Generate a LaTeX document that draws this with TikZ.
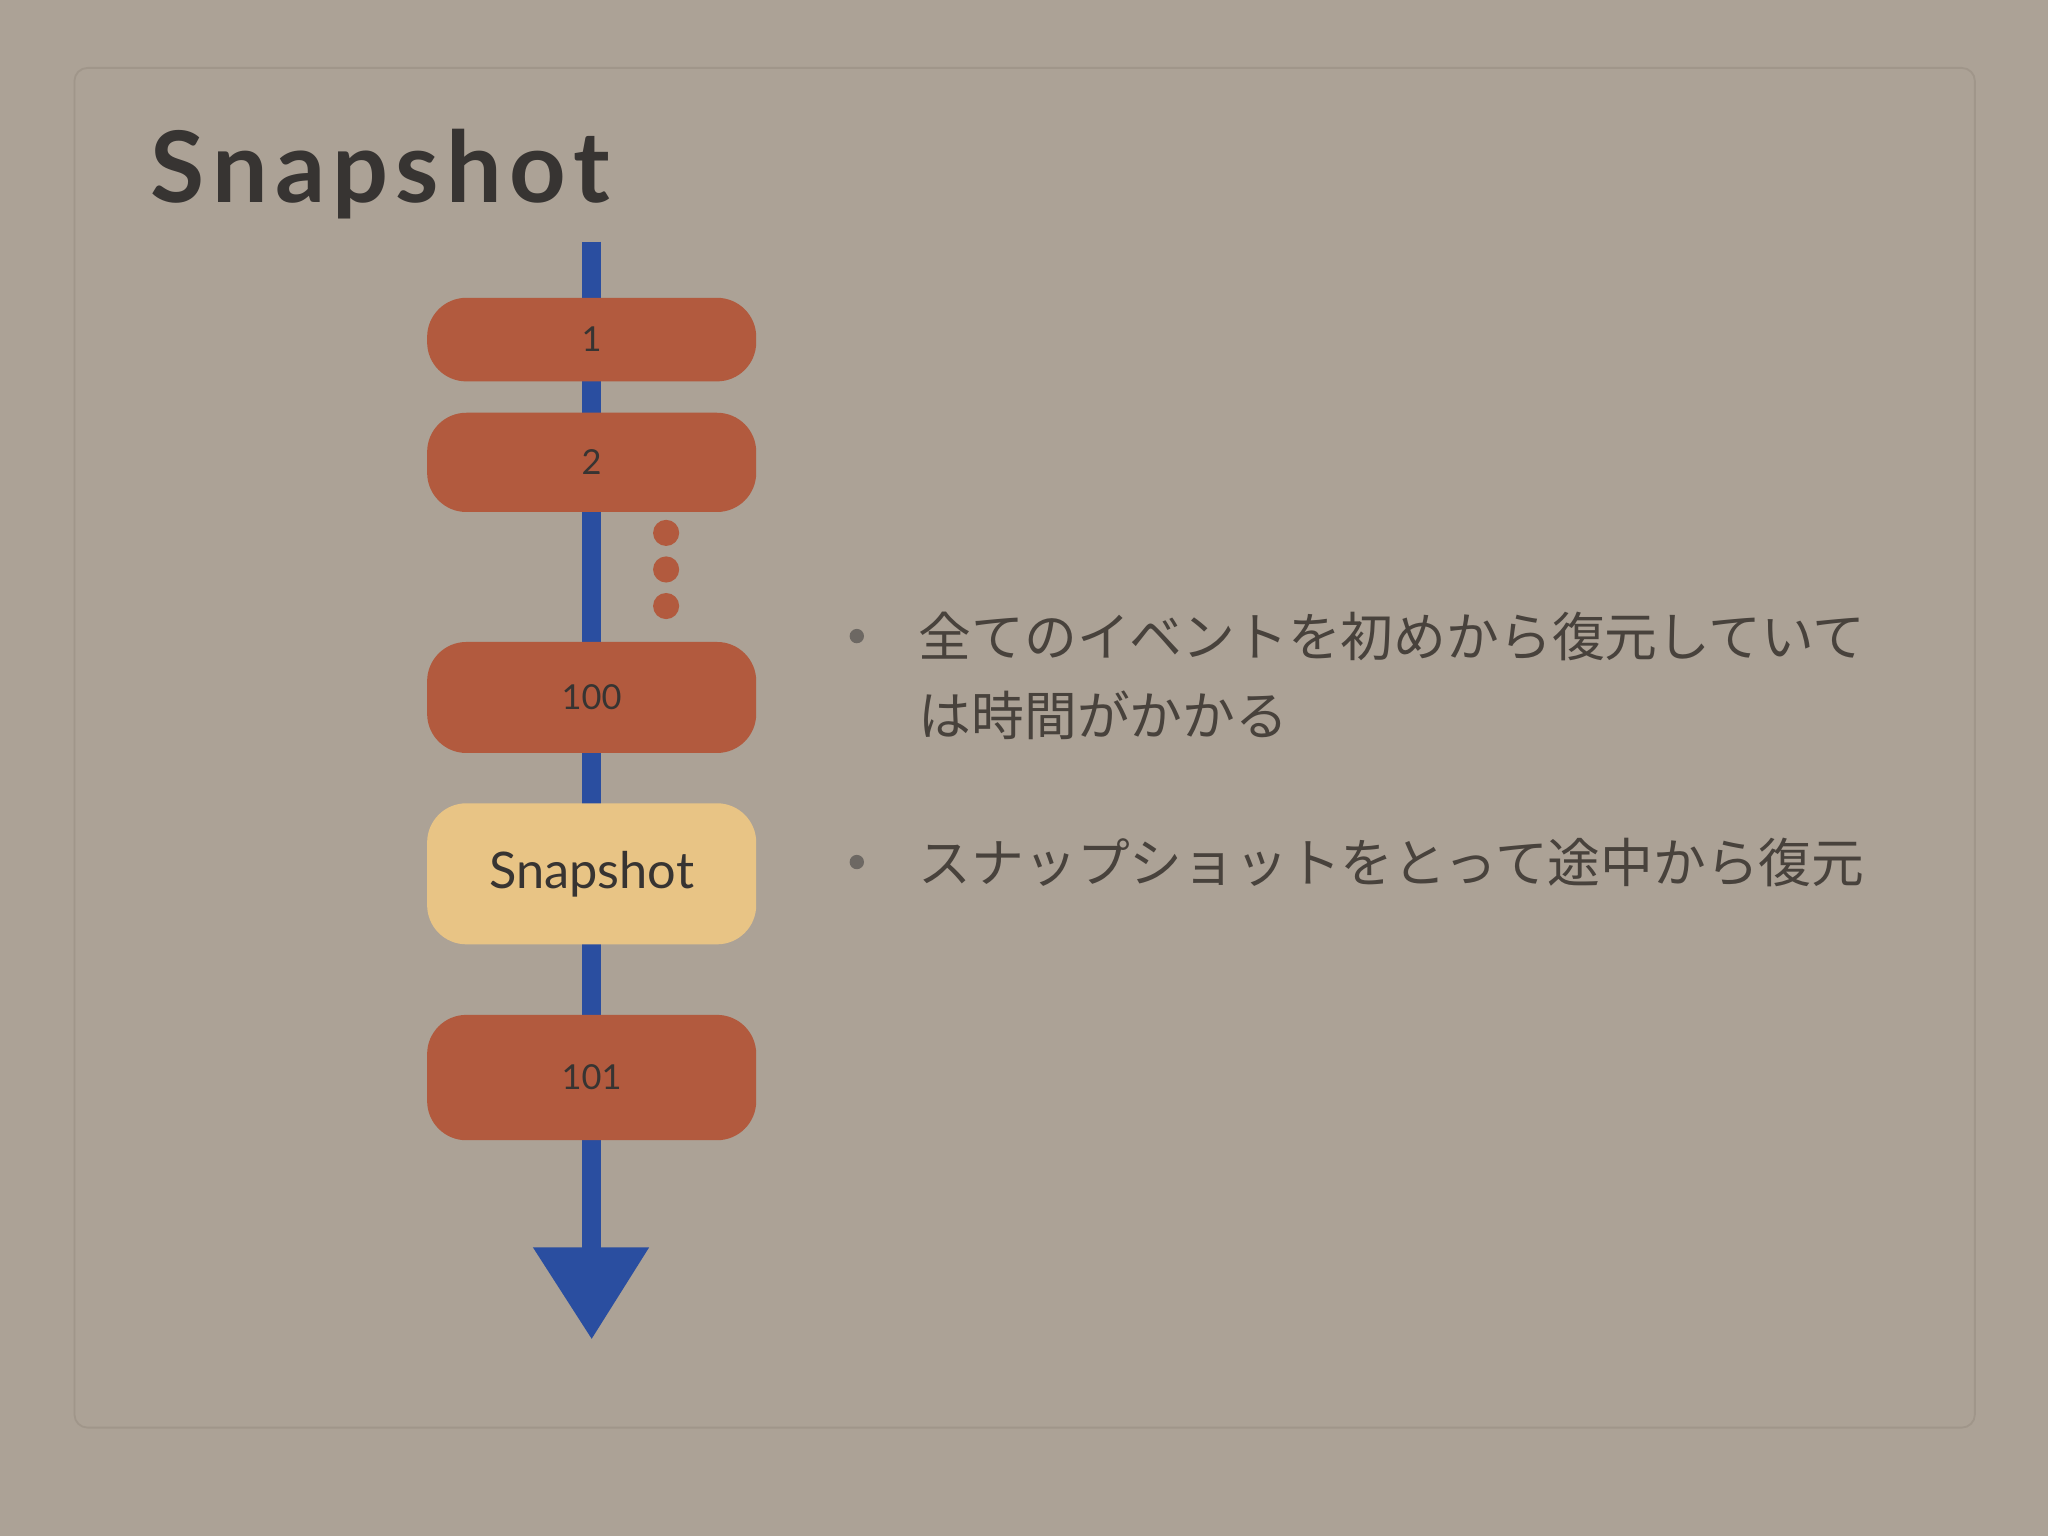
\documentclass[tikz,border=0pt]{standalone}
\usepackage{fontspec}
\setmainfont{Lato}
\newfontfamily\cjk{Noto Sans CJK JP}
\definecolor{bg}{RGB}{172,162,150}
\definecolor{frameb}{RGB}{160,150,138}
\definecolor{ev}{RGB}{178,90,62}
\definecolor{snap}{RGB}{232,196,133}
\definecolor{arrowc}{RGB}{42,78,160}
\definecolor{txt}{RGB}{72,66,60}
\definecolor{ttl}{RGB}{55,52,50}
\newcommand{\ks}{\hspace{3.2pt}}
\tikzset{
  evbox/.style={fill=ev, rounded corners=0.6cm, minimum width=5.04cm, inner sep=0pt, font=\fontsize{15}{18}\selectfont, text=ttl},
  dotc/.style={fill=ev, draw=none},
  jtext/.style={anchor=west, text=txt, font=\cjk\fontsize{23}{28}\selectfont, inner sep=0pt},
  bul/.style={fill=txt!80, draw=none}
}
\begin{document}
\begin{tikzpicture}[x=0.02cm,y=-0.02cm]
\useasboundingbox (0,0) rectangle (1568,1176);
\fill[bg] (0,0) rectangle (1568,1176);
\draw[frameb, line width=0.8pt, rounded corners=0.2cm] (57,52) rectangle (1512,1093);
\node[anchor=base west, text=ttl, font=\bfseries\fontsize{43}{50}\selectfont, inner sep=0pt] (title) at (115,155) {S\ks n\ks a\ks p\ks s\ks h\ks o\ks t};
% arrow
\coordinate (as) at (453,185);
\coordinate (ae) at (453,960);
\draw[arrowc, line width=0.3cm] (as) -- (ae);
\fill[arrowc] (408,955) -- (497,955) -- (453,1025) -- cycle;
% boxes
\node[evbox, minimum height=1.28cm] (b1) at (453,260) {1};
\node[evbox, minimum height=1.52cm] (b2) at (453,354) {2};
\node[evbox, minimum height=1.7cm] (b100) at (453,534) {100};
\node[evbox, fill=snap, minimum height=2.16cm, font=\fontsize{22}{26}\selectfont] (bs) at (453,669) {Snapshot};
\node[evbox, minimum height=1.92cm] (b101) at (453,825) {101};
% dots
\foreach \y/\n in {408/d1,436/d2,464/d3}
  \fill[dotc] (510,\y) circle (0.2cm) coordinate (\n);
% bullets
\fill[bul] (656,487) circle (0.11cm);
\node[jtext] (t1) at (703,487) {全てのイベントを初めから復元していて};
\node[jtext] (t2) at (703,548) {は時間がかかる};
\fill[bul] (656,660) circle (0.11cm);
\node[jtext] (t3) at (703,660) {スナップショットをとって途中から復元};
\end{tikzpicture}
\end{document}
